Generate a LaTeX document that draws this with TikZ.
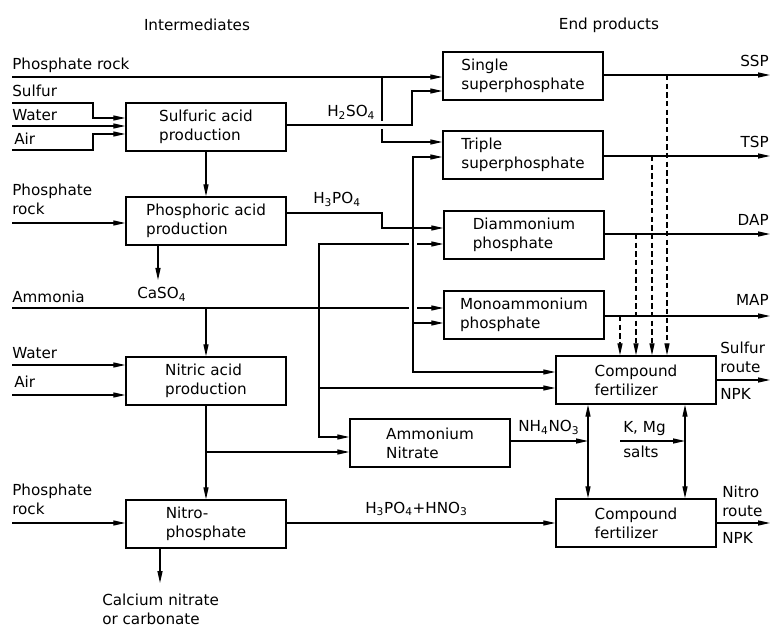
\documentclass[tikz,border=0pt]{standalone}
\usepackage{fontspec}
\setmainfont{DejaVu Sans}
\usetikzlibrary{arrows.meta}

\tikzset{
  box/.style={draw, line width=1.1pt, minimum width=120pt, minimum height=36pt, align=left},
  lbl/.style={anchor=base west, inner sep=0pt},
  lblr/.style={anchor=base east, inner sep=0pt},
  lbltwo/.style={anchor=south west, inner sep=0pt, align=left},
  pipe/.style={line width=0.9pt},
  flow/.style={pipe, -{Triangle[length=9pt,width=3.8pt]}},
  twoway/.style={pipe, {Triangle[length=9pt,width=3.8pt]}-{Triangle[length=9pt,width=3.8pt]}},
  feed/.style={flow, dash pattern=on 4pt off 2.5pt}
}

\begin{document}
\begin{tikzpicture}[x=0.75pt, y=-0.75pt, font=\fontsize{11.4}{14.3}\selectfont]
\useasboundingbox (0,0) rectangle (771,630);

\node (hint) at (197,25) {Intermediates};
\node (hend) at (609,25) {End products};

% process boxes
\node[box] (sulf) at (206,127) {Sulfuric acid\\production};
\node[box] (phos) at (206,221) {Phosphoric acid\\production};
\node[box] (nitr) at (206,381) {Nitric acid\\production};
\node[box] (nitp) at (206,524) {Nitro-\\phosphate};
\node[box] (ssp) at (523,76) {Single\\superphosphate};
\node[box] (tsp) at (523,155) {Triple\\superphosphate};
\node[box] (dap) at (524,235) {Diammonium\\phosphate};
\node[box] (map) at (524,315) {Monoammonium\\phosphate};
\node[box] (an) at (430,443) {Ammonium\\Nitrate};
\node[box] (cfs) at (636,380) {Compound\\fertilizer};
\node[box] (cfn) at (636,523) {Compound\\fertilizer};

% raw materials
\coordinate (rk1) at (12,77);
\coordinate (sfr) at (12,103);
\coordinate (wt1) at (12,126);
\coordinate (air1) at (12,150);
\coordinate (rk2) at (12,223);
\coordinate (amm) at (12,308);
\coordinate (wt2) at (12,365);
\coordinate (air2) at (12,395);
\coordinate (rk3) at (12,523);
\node[lbl] at (12,70) {Phosphate rock};
\node[lbl] at (12,97) {Sulfur};
\node[lbl] at (12,121) {Water};
\node[lbl] at (14,145) {Air};
\node[lbltwo] at (12,215) {Phosphate\\rock};
\node[lbl] at (12,303) {Ammonia};
\node[lbl] at (12,359) {Water};
\node[lbl] at (14,388) {Air};
\node[lbltwo] at (12,515) {Phosphate\\rock};

% sulfuric acid
\draw[flow] (rk1) -- (rk1 -| ssp.west);
\draw[pipe] (382,77) -- (382,121);
\draw[flow] (382,129) |- (tsp.west |- 0,142);
\draw[flow] (sfr) -- ++(81,0) |- (sulf.west |- 0,118);
\draw[flow] (wt1) -- (wt1 -| sulf.west);
\draw[flow] (air1) -- ++(81,0) |- (sulf.west |- 0,134);
\draw[flow] (sulf.east |- 0,125) -- (412,125) |- (ssp.west |- 0,91);
\node[lbl] (h2so4) at (327,117) {H\textsubscript{2}SO\textsubscript{4}};

% phosphoric acid
\draw[flow] (sulf) -- (phos);
\draw[flow] (rk2) -- (rk2 -| phos.west);
\draw[flow] (phos.south -| 158,0) -- (158,280);
\node[lbl] (caso4) at (137,299) {CaSO\textsubscript{4}};
\draw[flow] (phos.east |- 0,213) -- (382,213) |- (dap.west |- 0,228);
\node[lbl] (h3po4) at (313,204) {H\textsubscript{3}PO\textsubscript{4}};
\coordinate (jp) at (413,228);
\draw[flow] (jp) |- (tsp.west |- 0,157);
\draw[flow] (jp) |- (cfs.west |- 0,372);
\draw[flow] (jp |- 0,323) -- (map.west |- 0,323);

% ammonia
\coordinate (ja) at (319,308);
\draw[pipe] (amm) -- (409,308);
\draw[flow] (417,308) -- (map.west |- 0,308);
\draw[flow] (amm -| nitr.north) -- (nitr.north);
\draw[pipe] (409,244) -| (ja);
\draw[flow] (417,244) -- (dap.west |- 0,244);
\draw[flow] (ja) |- (an.west |- 0,437);
\draw[flow] (ja |- 0,388) -- (cfs.west |- 0,388);

% nitric acid
\draw[flow] (wt2) -- (wt2 -| nitr.west);
\draw[flow] (air2) -- (air2 -| nitr.west);
\draw[flow] (nitr) -- (nitp);
\draw[flow] (nitr.south |- 0,452) -- (an.west |- 0,452);
\draw[flow] (rk3) -- (rk3 -| nitp.west);
\draw[flow] (nitp.south -| 160,0) -- (160,583);
\node[lbltwo] at (102,625) {Calcium nitrate\\or carbonate};
\draw[flow] (nitp.east |- 0,523) -- (cfn.west |- 0,523);
\node[lbl] at (365,513) {H\textsubscript{3}PO\textsubscript{4}+HNO\textsubscript{3}};

% ammonium nitrate and salts
\draw[flow] (an.east |- 0,441) -- (588,441);
\node[lbl] at (518,432) {NH\textsubscript{4}NO\textsubscript{3}};
\draw[twoway] (cfs.south -| 588,0) -- (cfn.north -| 588,0);
\draw[twoway] (cfs.south -| 685,0) -- (cfn.north -| 685,0);
\draw[flow] (620,441) -- (685,441);
\node[lbl] at (623,433) {K, Mg};
\node[lbl] at (623,458) {salts};

% end products
\draw[flow] (ssp.east |- 0,75) -- (770,75);
\draw[flow] (tsp.east |- 0,156) -- (770,156);
\draw[flow] (dap.east |- 0,234) -- (770,234);
\draw[flow] (map.east |- 0,316) -- (770,316);
\node[lblr] at (769,67) {SSP};
\node[lblr] at (769,148) {TSP};
\node[lblr] at (769,226) {DAP};
\node[lblr] at (769,306) {MAP};
\draw[feed] (667,75) -- (cfs.north -| 667,0);
\draw[feed] (652,156) -- (cfs.north -| 652,0);
\draw[feed] (636,234) -- (cfs.north -| 636,0);
\draw[feed] (620,316) -- (cfs.north -| 620,0);
\draw[flow] (cfs.east |- 0,380) -- (770,380);
\node[lbltwo] at (720,373) {Sulfur\\route};
\node[lbl] at (720,400) {NPK};
\draw[flow] (cfn.east |- 0,523) -- (770,523);
\node[lbltwo] at (722,517) {Nitro\\route};
\node[lbl] at (722,543) {NPK};
\end{tikzpicture}
\end{document}
